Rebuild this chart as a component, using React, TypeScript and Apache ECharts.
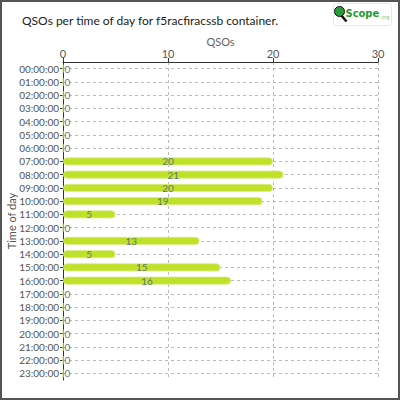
import { useEffect, useRef } from "react";
import * as echarts from "echarts";

const hours = [
  "00:00:00", "01:00:00", "02:00:00", "03:00:00", "04:00:00", "05:00:00",
  "06:00:00", "07:00:00", "08:00:00", "09:00:00", "10:00:00", "11:00:00",
  "12:00:00", "13:00:00", "14:00:00", "15:00:00", "16:00:00", "17:00:00",
  "18:00:00", "19:00:00", "20:00:00", "21:00:00", "22:00:00", "23:00:00",
];
const qsos = [0, 0, 0, 0, 0, 0, 0, 20, 21, 20, 19, 5, 0, 13, 5, 15, 16, 0, 0, 0, 0, 0, 0, 0];
const xTicks = [0, 10, 20, 30];

const titleText = "QSOs per time of day for f5racfiracssb container.";
const font = "Lato";

export default function App() {
  const ref = useRef<HTMLDivElement | null>(null);

  useEffect(() => {
    const el = ref.current;
    if (!el) {
      return;
    }
    const chart = echarts.init(el, undefined, { renderer: "svg" });

    const data = qsos.map((v) => ({
      value: v,
      label:
        v === 0
          ? { position: "right" as const, distance: 1 }
          : { position: "inside" as const },
    }));

    chart.setOption({
      animation: false,
      backgroundColor: "#ffffff",
      title: {
        text: titleText,
        left: 15,
        top: 7,
        textStyle: {
          fontFamily: font,
          fontSize: 12,
          fontWeight: "normal",
          color: "#222222",
        },
      },
      graphic: [
        {
          type: "group",
          left: 331,
          top: 1,
          children: [
            {
              type: "rect",
              shape: { x: 0, y: 0, width: 58, height: 22, r: 3 },
              style: { fill: "#ffffff", stroke: "#e6edcf", lineWidth: 1 },
            },
            {
              type: "line",
              shape: { x1: 7, y1: 11, x2: 13, y2: 18 },
              style: { stroke: "#111111", lineWidth: 2.5 },
            },
            {
              type: "circle",
              shape: { cx: 6, cy: 8, r: 5 },
              style: { fill: "#2a9a3a", stroke: "#111111", lineWidth: 1 },
            },
            {
              type: "text",
              x: 12,
              y: 4,
              style: {
                text: "Scope",
                fill: "#1f9a2e",
                font: "bold 11px 'Liberation Sans Narrow', 'DejaVu Sans Condensed', sans-serif",
              },
            },
            {
              type: "text",
              x: 47,
              y: 11,
              style: {
                text: ".org",
                fill: "#8cc86a",
                font: "5px 'Open Sans'",
              },
            },
          ],
        },
      ],
      grid: {
        left: 61,
        right: 20,
        top: 60,
        bottom: 18,
        containLabel: false,
        outerBoundsMode: "none",
      },
      xAxis: {
        type: "value",
        position: "top",
        min: 0,
        max: xTicks[xTicks.length - 1],
        interval: 10,
        name: "QSOs",
        nameLocation: "middle",
        nameGap: 15,
        nameMoveOverlap: false,
        nameTextStyle: { fontFamily: font, fontSize: 11, color: "#666666" },
        axisLine: { show: true, lineStyle: { color: "#333333", width: 1 } },
        axisTick: { show: true, length: 4, lineStyle: { color: "#333333" } },
        axisLabel: {
          fontFamily: font,
          fontSize: 11,
          color: "#555555",
          margin: 3,
        },
        splitLine: {
          show: true,
          lineStyle: { color: "#bbbbbb", type: [3, 3] },
        },
      },
      yAxis: {
        type: "category",
        data: hours,
        inverse: true,
        name: "Time of day",
        nameLocation: "middle",
        nameGap: 46,
        nameMoveOverlap: false,
        nameTextStyle: { fontFamily: font, fontSize: 11, color: "#555555" },
        axisLine: { show: true, lineStyle: { color: "#333333", width: 1 } },
        axisTick: {
          show: true,
          alignWithLabel: true,
          interval: 0,
          length: 3,
          lineStyle: { color: "#333333" },
        },
        axisLabel: {
          fontFamily: font,
          fontSize: 10,
          color: "#555555",
          margin: 4,
          interval: 0,
        },
        splitLine: {
          show: true,
          alignWithLabel: true,
          interval: 0,
          lineStyle: { color: "#bbbbbb", type: [3, 3] },
        },
      },
      series: [
        {
          type: "bar",
          data,
          barWidth: 8,
          itemStyle: {
            color: "#bfe12a",
            borderColor: "#d8ee8a",
            borderWidth: 0.8,
            borderRadius: 4,
          },
          label: {
            show: true,
            fontFamily: font,
            fontSize: 10,
            color: "#5d7a6e",
          },
        },
      ],
    });

    return () => {
      chart.dispose();
    };
  }, []);

  return (
    <div
      style={{
        position: "fixed",
        left: 0,
        top: 0,
        width: 400,
        height: 400,
        boxSizing: "border-box",
        border: "2px solid #555555",
        background: "#ffffff",
      }}
    >
      <div ref={ref} style={{ width: "100%", height: "100%" }} />
    </div>
  );
}
